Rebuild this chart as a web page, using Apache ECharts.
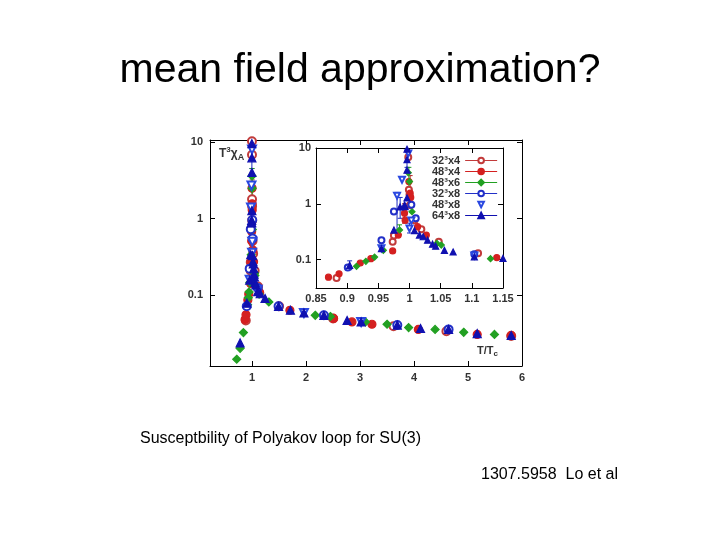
<!DOCTYPE html>
<html>
<head>
<meta charset="utf-8">
<script src="https://cdn.jsdelivr.net/npm/echarts@6/dist/echarts.min.js"></script>
<style>
  html, body { margin: 0; padding: 0; background: #fff; }
  #chart { width: 720px; height: 540px; }
</style>
</head>
<body>
<div id="chart"></div>
<script>
// lattice sizes (legend order)
const seriesNames = ['32³x4', '48³x4', '48³x6', '32³x8', '48³x8', '64³x8'];

// [T/Tc, T^3 chi_A]
const pts32x4 = [[0.883, 0.047], [0.973, 0.209], [0.975, 0.27], [0.997, 10.2], [0.998, 6.8], [0.999, 1.79],
  [1.000, 1.45], [1.001, 0.95], [1.008, 0.51], [1.019, 0.35], [1.047, 0.209], [1.11, 0.13],
  [1.5, 0.072], [2.5, 0.050], [3.62, 0.0395], [4.6, 0.034], [5.8, 0.0295]];
const pts48x4 = [[0.870, 0.0485], [0.887, 0.0557], [0.921, 0.087], [0.938, 0.104], [0.973, 0.143], [0.982, 0.275],
  [0.992, 0.68], [0.993, 0.51], [0.999, 2.5], [1.001, 1.56], [1.002, 1.3], [1.013, 0.39], [1.027, 0.275],
  [1.14, 0.109], [1.7, 0.064], [2.51, 0.050], [2.85, 0.045], [3.22, 0.042], [4.08, 0.036], [5.17, 0.031], [5.8, 0.030]];
const pts48x6 = [[0.715, 0.0147], [0.778, 0.0204], [0.839, 0.0327], [0.915, 0.0757], [0.930, 0.093], [0.944, 0.111],
  [0.958, 0.147], [0.984, 0.339], [0.998, 3.6], [1.0, 2.5], [1.004, 0.72], [1.044, 0.195], [1.051, 0.182],
  [1.13, 0.104], [1.31, 0.082], [2.17, 0.055], [2.45, 0.053], [3.10, 0.045], [3.50, 0.042], [3.90, 0.038],
  [4.39, 0.036], [4.92, 0.033], [5.49, 0.031]];
const pts32x8 = [[0.901, 0.072], [0.955, 0.223], [0.975, 0.726], [1.003, 0.96], [1.010, 0.55], [1.104, 0.125],
  [1.49, 0.072], [2.33, 0.055], [3.69, 0.041], [4.64, 0.036]];
const pts48x8 = [[0.955, 0.16], [0.980, 1.4], [0.988, 2.7], [0.998, 8.0], [1.0, 0.36], [1.003, 0.5],
  [1.104, 0.118], [1.96, 0.059], [3.02, 0.045]];
const pts64x8 = [[0.778, 0.024], [0.904, 0.079], [0.955, 0.158], [0.975, 0.339], [0.985, 0.88], [0.992, 0.95],
  [0.996, 9.5], [0.996, 6.2], [0.996, 4.0], [0.996, 1.27], [0.993, 0.89], [1.008, 0.33], [1.016, 0.275],
  [1.022, 0.257], [1.029, 0.223], [1.037, 0.189], [1.042, 0.174], [1.056, 0.147], [1.070, 0.137], [1.104, 0.112],
  [1.15, 0.105], [1.24, 0.091], [1.49, 0.072], [1.71, 0.064], [1.96, 0.059], [2.33, 0.055], [2.76, 0.047],
  [3.02, 0.045], [3.69, 0.041], [4.12, 0.037], [4.64, 0.036], [5.17, 0.0317], [5.8, 0.030]];

// error bars: [T/Tc, low, high]
const errBlue = [[0.904, 0.066, 0.095], [0.980, 0.33, 1.6], [0.996, 4.5, 10.5], [0.985, 0.55, 1.3],
  [1.104, 0.105, 0.14], [1.0, 0.3, 0.45]];
const errRed = [[1.001, 0.9, 3.2], [0.992, 0.45, 1.0]];
const errGreen = [[0.984, 0.28, 0.42], [0.999, 1.5, 4.5]];

const colors = ['#c23b3b', '#d42020', '#22a022', '#2230c8', '#2a48e0', '#1010b0'];
const symbols = ['emptyCircle', 'circle', 'diamond', 'emptyCircle', 'emptyTriangle', 'triangle'];
const rotates = [0, 0, 0, 0, 180, 0];
const allPts = [pts32x4, pts48x4, pts48x6, pts32x8, pts48x8, pts64x8];

const chart = echarts.init(document.getElementById('chart'));

const fontF = 'Liberation Sans';
const tickLbl = { fontFamily: fontF, fontSize: 11, fontWeight: 'bold', color: '#333' };

function logLabel(v) {
  const l = Math.log10(v);
  if (Math.abs(l - Math.round(l)) > 1e-6) return '';
  const r = Math.round(l);
  return r >= 0 ? String(Math.pow(10, r)) : (Math.pow(10, r)).toFixed(-r);
}

function mkAxis(type, gi, pos, opts, labels, zl) {
  return Object.assign({
    type: type, gridIndex: gi, position: pos, zlevel: zl,
    axisLine: { show: true, onZero: false, lineStyle: { color: '#000', width: 1 } },
    axisTick: { show: true, inside: true, length: 5, lineStyle: { color: '#000' } },
    splitLine: { show: false },
    axisLabel: labels ? Object.assign({ show: true }, tickLbl) : { show: false }
  }, opts);
}

const mainX = { min: 0.22, max: 6, axisLabel: Object.assign({ margin: 6,
  formatter: function (v) { return Math.abs(v - Math.round(v)) < 1e-6 ? String(Math.round(v)) : ''; } }, tickLbl) };
const mainY = { min: 0.012, max: 10.6, axisLabel: Object.assign({ margin: 7, formatter: logLabel }, tickLbl) };
const insX = { min: 0.85, max: 1.15, interval: 0.05, axisLabel: Object.assign({ margin: 5 }, tickLbl) };
const insY = { min: 0.031, max: 10, axisLabel: Object.assign({ margin: 5, formatter: logLabel }, tickLbl) };

const xAxes = [
  mkAxis('value', 0, 'bottom', mainX, true, 0),
  mkAxis('value', 0, 'top', { min: 0.22, max: 6 }, false, 0),
  mkAxis('value', 1, 'bottom', insX, true, 1),
  mkAxis('value', 1, 'top', { min: 0.85, max: 1.15, interval: 0.05 }, false, 1)
];
const yAxes = [
  mkAxis('log', 0, 'left', mainY, true, 0),
  mkAxis('log', 0, 'right', { min: 0.012, max: 10.6 }, false, 0),
  mkAxis('log', 1, 'left', insY, true, 1),
  mkAxis('log', 1, 'right', { min: 0.031, max: 10 }, false, 1)
];

const series = [];
// inset first so the legend takes its icons from there
[1, 0].forEach(function (g) {
  allPts.forEach(function (pts, i) {
    series.push({
      name: seriesNames[i], type: 'line', data: pts,
      xAxisIndex: g ? 2 : 0, yAxisIndex: g ? 2 : 0, zlevel: g, z: 3,
      symbol: symbols[i], symbolSize: g ? 6 : 8, symbolRotate: rotates[i],
      showSymbol: true, showAllSymbol: true, clip: true, silent: true,
      lineStyle: { width: 0, opacity: 0, color: colors[i] },
      itemStyle: { color: colors[i], borderColor: colors[i], borderWidth: 1.2 }
    });
  });
  [[errBlue, '#1a2ac0'], [errRed, '#b02020'], [errGreen, '#229922']].forEach(function (e) {
    series.push({
      type: 'custom', data: e[0], xAxisIndex: g ? 2 : 0, yAxisIndex: g ? 2 : 0, zlevel: g, z: 2,
      clip: true, silent: true, encode: { x: 0, y: [1, 2] },
      renderItem: function (params, api) {
        const x = api.value(0);
        const p1 = api.coord([x, api.value(1)]);
        const p2 = api.coord([x, api.value(2)]);
        const st = { stroke: e[1], lineWidth: 1 };
        return { type: 'group', children: [
          { type: 'line', shape: { x1: p1[0], y1: p1[1], x2: p2[0], y2: p2[1] }, style: st },
          { type: 'line', shape: { x1: p1[0] - 2.5, y1: p1[1], x2: p1[0] + 2.5, y2: p1[1] }, style: st },
          { type: 'line', shape: { x1: p2[0] - 2.5, y1: p2[1], x2: p2[0] + 2.5, y2: p2[1] }, style: st }
        ] };
      }
    });
  });
});

const option = {
  backgroundColor: '#fff',
  animation: false,
  grid: [
    { left: 210, right: 198, top: 140, bottom: 174, show: false },
    { left: 316, right: 217, top: 148, bottom: 252, show: true, backgroundColor: '#fff', borderWidth: 0, zlevel: 1 }
  ],
  xAxis: xAxes,
  yAxis: yAxes,
  legend: {
    zlevel: 1, orient: 'vertical', left: 427, top: 150, align: 'right',
    itemWidth: 32, itemHeight: 7, itemGap: 0,
    selectedMode: false,
    lineStyle: { width: 1.2, opacity: 1 },
    textStyle: { fontFamily: fontF, fontSize: 11, fontWeight: 'bold', color: '#333', lineHeight: 9 },
    data: seriesNames.map(function (n, i) {
      return i === 4 ? { name: n, lineStyle: { opacity: 0, width: 0 } } : { name: n };
    })
  },
  graphic: [
    { type: 'text', left: 'center', top: 50,
      style: { text: 'mean field approximation?', font: '41px "Liberation Sans"', fill: '#000' } },
    { type: 'text', left: 140, top: 431,
      style: { text: 'Susceptbility of Polyakov loop for SU(3)', font: '16px "Liberation Sans"', fill: '#000' } },
    { type: 'text', left: 481, top: 467,
      style: { text: '1307.5958  Lo et al', font: '16px "Liberation Sans"', fill: '#000' } },
    { type: 'text', left: 219, top: 146,
      style: { text: '{a|T}{s|3}{a|χ}{b|A}', rich: {
        a: { fontFamily: fontF, fontSize: 12, fontWeight: 'bold', fill: '#333', lineHeight: 16, verticalAlign: 'middle' },
        s: { fontFamily: fontF, fontSize: 8, fontWeight: 'bold', fill: '#333', verticalAlign: 'top' },
        b: { fontFamily: fontF, fontSize: 9, fontWeight: 'bold', fill: '#333', verticalAlign: 'bottom' } } } },
    { type: 'text', left: 477, top: 345,
      style: { text: '{a|T/T}{b|c}', rich: {
        a: { fontFamily: fontF, fontSize: 11, fontWeight: 'bold', fill: '#333', lineHeight: 14, verticalAlign: 'middle' },
        b: { fontFamily: fontF, fontSize: 8, fontWeight: 'bold', fill: '#333', verticalAlign: 'bottom' } } } }
  ],
  series: series
};

chart.setOption(option);
</script>
</body>
</html>
